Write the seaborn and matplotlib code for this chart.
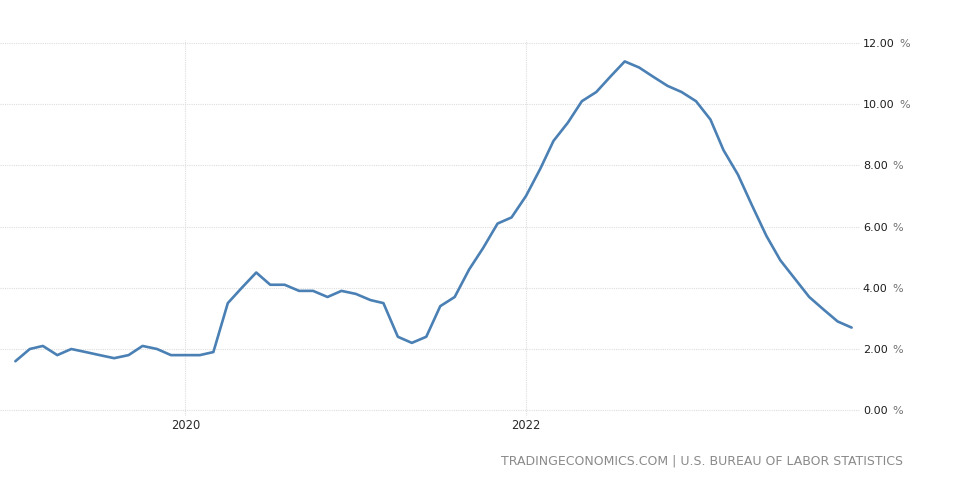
import pandas as pd
import matplotlib.pyplot as plt
import matplotlib.transforms as mtransforms
import seaborn as sns

# monthly food inflation, Jan 2019 .. Dec 2023
months = pd.date_range("2019-01-01", "2023-12-01", freq="MS")
food_inflation = [
    1.6, 2.0, 2.1, 1.8, 2.0, 1.9, 1.8, 1.7, 1.8, 2.1, 2.0, 1.8,
    1.8, 1.8, 1.9, 3.5, 4.0, 4.5, 4.1, 4.1, 3.9, 3.9, 3.7, 3.9,
    3.8, 3.6, 3.5, 2.4, 2.2, 2.4, 3.4, 3.7, 4.6, 5.3, 6.1, 6.3,
    7.0, 7.9, 8.8, 9.4, 10.1, 10.4, 10.9, 11.4, 11.2, 10.9, 10.6, 10.4,
    10.1, 9.5, 8.5, 7.7, 6.7, 5.7, 4.9, 4.3, 3.7, 3.3, 2.9, 2.7,
]
y_ticks = [0, 2, 4, 6, 8, 10, 12]
x_ticks = ["2020-01-01", "2022-01-01"]
x_tick_labels = ["2020", "2022"]
source = "TRADINGECONOMICS.COM | U.S. BUREAU OF LABOR STATISTICS"

df = pd.DataFrame({"date": months, "value": food_inflation})

sns.set_style("white")
plt.rcParams["font.family"] = ["DejaVu Sans"]

fig = plt.figure(figsize=(9.69, 5.04), dpi=100)
ax = fig.add_axes([0.0, 1 - 416 / 504, 860 / 969, 376 / 504])

sns.lineplot(data=df, x="date", y="value", ax=ax, color="#4a80b4", linewidth=1.9)

ax.set_xlim(pd.Timestamp("2018-11-29"), pd.Timestamp("2023-12-19"))
ax.set_ylim(-0.19, 12.1)

ax.set_yticks(y_ticks)
ax.set_yticklabels([f"{v:.2f}" for v in y_ticks])
ax.yaxis.tick_right()
ax.tick_params(axis="y", length=0, pad=2, labelsize=8, labelcolor="#1e1e1e")
ax.set_xticks(pd.to_datetime(x_ticks))
ax.set_xticklabels(x_tick_labels)
ax.tick_params(axis="x", length=0, pad=2.5, labelsize=8.3, labelcolor="#2a2a2a")

ax.grid(True, linestyle=(0, (1, 1)), color="#dedede", linewidth=0.8)
ax.set_xlabel("")
ax.set_ylabel("")
for s in ax.spines.values():
    s.set_visible(False)

# grey percent sign right after each y tick number
fig.canvas.draw()
renderer = fig.canvas.get_renderer()
for lab in ax.get_yticklabels():
    if not lab.get_text():
        continue
    bb = lab.get_window_extent(renderer)
    x_fig = (bb.x1 + 5) / fig.bbox.width
    y_fig = (bb.y0 + bb.y1) / 2 / fig.bbox.height
    fig.text(x_fig, y_fig, "%", ha="left", va="center", fontsize=8,
             color="#707070")

fig.text(903 / 969, 1 - 461 / 504, source, ha="right", va="center",
         fontsize=9, color="#8a8a8a")

fig.savefig("out.png", dpi=100)
